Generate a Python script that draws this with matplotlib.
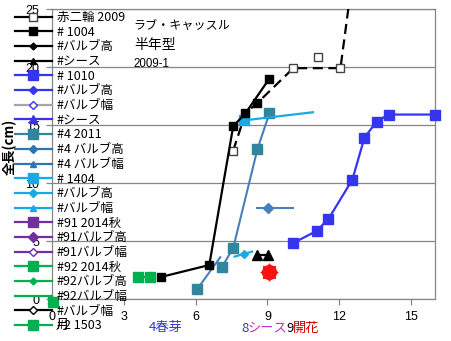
import matplotlib
matplotlib.use("Agg")
import numpy as np
import matplotlib.pyplot as plt
from matplotlib.lines import Line2D

plt.rcParams['font.family'] = ['Noto Sans CJK JP', 'DejaVu Sans']

# data (month, length cm)
akaniri_x = [7.57, 8.08, 8.58, 10.08, 12.05, 12.7]
akaniri_y = [12.8, 16.0, 16.9, 19.9, 19.9, 30.0]
akaniri_extra_x = [11.13]
akaniri_extra_y = [20.86]

p1004_x = [4.56, 6.57, 7.57, 8.08, 9.08]
p1004_y = [1.9, 2.93, 14.9, 16.0, 19.0]
p1004_extra_x = [8.58]
p1004_extra_y = [16.9]

sheath_x = [8.58, 9.04]
sheath_y = [3.8, 3.8]

flower_x = [9.08]
flower_y = [2.33]

p1010_x = [10.08, 11.05, 11.55, 12.55, 13.05, 13.56, 14.06, 16.0]
p1010_y = [4.83, 5.86, 6.9, 10.3, 13.9, 15.3, 15.9, 15.9]

p4_x = [6.07, 7.03, np.nan, 7.1, 7.57, 8.58, 9.08]
p4_y = [0.86, 3.6, np.nan, 2.76, 4.4, 12.9, 16.0]

p4_bulb_x = [9.04]
p4_bulb_y = [7.85]
p4_bulb_err = [[0.5], [1.05]]

p1404_x = [8.03, 10.9]
p1404_y = [15.4, 16.1]
p1404_bulb_x = [7.63, 8.03, 8.36]
p1404_bulb_y = [3.65, 3.9, 4.08]

p92_x = [3.6, 4.1]
p92_y = [1.9, 1.9]

p2_x = [0.05]
p2_y = [-0.25]

black = '#000000'
blue = '#3535f0'
gray = '#a6a6a6'
teal = '#31859c'
steel = '#4a7fbf'
steel2 = '#2e75b6'
lblue = '#19a9e5'
purple = '#7030a0'
green = '#00b050'

fig = plt.figure(figsize=(4.52, 3.41), dpi=100)
ax = fig.add_axes([52/452, 1-299/341, 383/452, 290/341])

ax.plot(akaniri_x, akaniri_y, color=black, lw=1.6, ls=(0, (4.5, 2.5)),
        marker='s', ms=6, mfc='white', mec='#444444', markevery=[0, 3, 4], zorder=3)
ax.plot(akaniri_extra_x, akaniri_extra_y, ls='none', marker='s', ms=6,
        mfc='white', mec='#444444', zorder=3)
ax.plot(p4_x, p4_y, color=steel, lw=1.5, marker='s', ms=6.5, mfc=teal, mec=teal,
        markevery=[0, 3, 4, 5, 6], zorder=3)
ax.errorbar(p4_bulb_x, p4_bulb_y, xerr=p4_bulb_err, color=steel, lw=1.5,
            marker='D', ms=5, capsize=0, zorder=3)
ax.plot(p1404_x, p1404_y, color=lblue, lw=1.6, marker='s', ms=7, markevery=[0], zorder=4)
ax.plot(p1404_bulb_x, p1404_bulb_y, color=lblue, lw=1.6, marker='D', ms=4.5,
        markevery=[1], zorder=4)
ax.plot(p1004_x, p1004_y, color=black, lw=1.6, marker='s', ms=5.2, zorder=5)
ax.plot(p1004_extra_x, p1004_extra_y, ls='none', color=black, marker='s', ms=5.2, zorder=5)
ax.plot(sheath_x, sheath_y, color=black, lw=1.6, marker='^', ms=6.5, zorder=5)
ax.plot(flower_x, flower_y, ls='none', marker='o', ms=10, color='#ff1010', zorder=5)
ax.plot(flower_x, flower_y, ls='none', marker=(8, 1, 0), ms=12.5, color='#ff1010', zorder=5)
ax.plot(p1010_x, p1010_y, color=blue, lw=1.6, marker='s', ms=6.5, clip_on=False, zorder=5)
ax.plot(p92_x, p92_y, color=green, lw=1.6, marker='s', ms=6.5, zorder=5)
ax.plot(p2_x, p2_y, ls='none', color=green, marker='s', ms=7, clip_on=False, zorder=5)

ax.set_xlim(0, 16)
ax.set_ylim(0, 25)
ax.set_xticks([0, 3, 6, 9, 12, 15])
ax.set_yticks([0, 5, 10, 15, 20, 25])
ax.yaxis.grid(True, color='#868686', lw=0.9)
ax.set_axisbelow(True)
for s in ax.spines.values():
    s.set_color('#868686')
    s.set_linewidth(0.9)
ax.tick_params(colors='#868686', labelcolor='black', labelsize=9,
               labelfontfamily='Liberation Sans', length=4, width=0.9)
ax.tick_params(axis='x', pad=5)
ax.tick_params(axis='y', pad=5)

ax.text(3.39, 23.6, 'ラブ・キャッスル', fontsize=8.7, va='center')
ax.text(3.45, 21.9, '半年型', fontsize=10, va='center')
ax.text(3.39, 20.3, '2009-1', fontsize=8.3, va='center', family='Liberation Sans')

fig.text(10/452, 1-147/341, '全長(cm)', rotation=90, fontsize=9.5,
         fontweight='bold', ha='center', va='center')

# legend entries: label, colour, marker, face, size
leg_labels = ['赤二輪 2009', '# 1004', '#バルブ高', '#シース', '# 1010', '#バルブ高',
              '#バルブ幅', '#シース', '#4 2011', '#4 バルブ高', '#4 バルブ幅', '# 1404',
              '#バルブ高', '#バルブ幅', '#91 2014秋', '#91バルブ高', '#91バルブ幅',
              '#92 2014秋', '#92バルブ高', '#92バルブ幅', '#バルブ幅', '#2 1503']
leg_colors = [black, black, black, black, blue, blue, gray, blue, teal, steel2, steel2,
              lblue, lblue, lblue, purple, purple, purple, green, green, green, black, green]
leg_markers = ['s', 's', 'D', '^', 's', 'D', 'D', '^', 's', 'D', '^', 's',
               'D', '^', 's', 'D', 'D', 's', 'D', None, 'D', 's']
leg_faces = ['white', black, black, black, blue, blue, 'white', blue, teal, steel2, steel2,
             lblue, lblue, lblue, purple, purple, 'white', green, green, green, 'white', green]
leg_edges = ['#444444', black, black, black, blue, blue, blue, blue, teal, steel2, steel2,
             lblue, lblue, lblue, purple, purple, purple, green, green, green, black, green]
leg_sizes = [6, 5.5, 3.5, 5, 7, 4, 4, 6, 6.5, 4, 5, 7, 4, 5, 6.5, 5, 4, 6.5, 3.5, 0, 4, 6.5]

handles = []
for c, m, f, e, s in zip(leg_colors, leg_markers, leg_faces, leg_edges, leg_sizes):
    handles.append(Line2D([], [], color=c, lw=1.6, marker=m, mfc=f, mec=e, ms=s))

fig.legend(handles, leg_labels, loc='upper left', bbox_to_anchor=(15/452, 1-11/341),
           frameon=False, fontsize=9, handlelength=2.95, handletextpad=0.4,
           labelspacing=0.135, borderpad=0, borderaxespad=0)

# month notes under the axis
ty = 1-328/341
fig.text(62/452, 1-325/341, '月', fontsize=9.5, ha='center', va='center')
fig.text(149/452, ty, '4春芽', fontsize=9.5, color='#3333cc', va='center')
fig.text(241/452, ty, '8', fontsize=9.5, color='#3333cc', va='center')
fig.text(248/452, ty, 'シース', fontsize=9.5, color='#c030c0', va='center')
fig.text(286/452, ty, '9', fontsize=9.5, color='black', va='center')
fig.text(293/452, ty, '開花', fontsize=9.5, color='#cc0000', va='center')

fig.savefig('out.png', dpi=100)
